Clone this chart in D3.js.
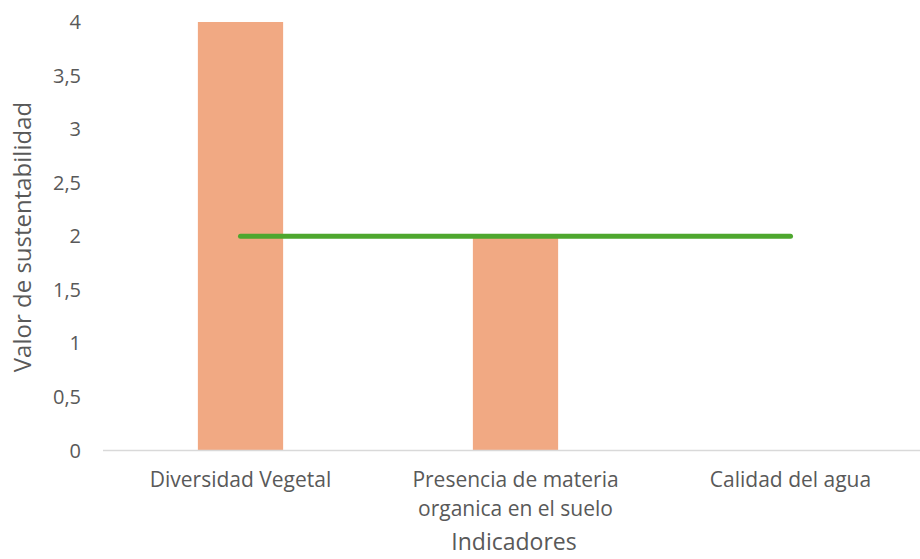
<!DOCTYPE html>
<html>
<head>
<meta charset="utf-8">
<script src="https://cdn.jsdelivr.net/npm/d3@7"></script>
<style>
  body { margin: 0; background: #fff; }
  text { font-family: "Open Sans", "Noto Sans", sans-serif; fill: #595959; }
</style>
</head>
<body>
<svg id="chart"></svg>
<script>
// data
let categories = [['Diversidad Vegetal'], ['Presencia de materia', 'organica en el suelo'], ['Calidad del agua']];
let barValues = [4, 2, 0];
let lineValues = [2, 2, 2];
let yTicks = [0, 0.5, 1, 1.5, 2, 2.5, 3, 3.5, 4];

const width = 920, height = 559;
const margin = { top: 22, right: -8, bottom: 108, left: 103 };

let svg = d3.select('#chart').attr('width', width).attr('height', height);

let x = d3.scaleBand()
  .domain(d3.range(categories.length))
  .range([margin.left, width - margin.right])
  .paddingInner(0.69)
  .paddingOuter(0.345);

let y = d3.scaleLinear()
  .domain([0, 4])
  .range([height - margin.bottom - 0.5, margin.top]);

let fmt = d => String(d).replace('.', ',');

// y tick labels
svg.selectAll('.ytick')
  .data(yTicks)
  .enter()
  .append('text')
  .attr('class', 'ytick')
  .attr('x', 81)
  .attr('y', d => y(d))
  .attr('dy', '0.35em')
  .attr('text-anchor', 'end')
  .style('font-size', '20px')
  .text(fmt);

// bars
svg.selectAll('.bar')
  .data(barValues)
  .enter()
  .append('rect')
  .attr('class', 'bar')
  .attr('x', (d, i) => x(i))
  .attr('y', d => y(d))
  .attr('width', x.bandwidth())
  .attr('height', d => y(0) - y(d))
  .attr('fill', '#f1a983');

// baseline
svg.append('line')
  .attr('x1', margin.left)
  .attr('x2', width)
  .attr('y1', y(0))
  .attr('y2', y(0))
  .attr('stroke', '#d9d9d9')
  .attr('stroke-width', 1.5);

// line series
let line = d3.line()
  .x((d, i) => x(i) + x.bandwidth() / 2)
  .y(d => y(d));

svg.append('path')
  .datum(lineValues)
  .attr('d', line)
  .attr('fill', 'none')
  .attr('stroke', '#4ea72e')
  .attr('stroke-width', 5)
  .attr('stroke-linecap', 'round');

// x category labels
let xl = svg.selectAll('.xlabel')
  .data(categories)
  .enter()
  .append('text')
  .attr('class', 'xlabel')
  .attr('text-anchor', 'middle')
  .style('font-size', '21px')
  .attr('y', 487);

xl.selectAll('tspan')
  .data((d, i) => d.map(t => ({ t, i })))
  .enter()
  .append('tspan')
  .attr('x', d => x(d.i) + x.bandwidth() / 2)
  .attr('dy', (d, j) => j === 0 ? 0 : 29)
  .text(d => d.t);

// axis titles
svg.append('text')
  .attr('x', 514)
  .attr('y', 550)
  .attr('text-anchor', 'middle')
  .style('font-size', '23px')
  .text('Indicadores');

svg.append('text')
  .attr('transform', 'translate(31,237) rotate(-90)')
  .attr('text-anchor', 'middle')
  .style('font-size', '24px')
  .text('Valor de sustentabilidad');
</script>
</body>
</html>
